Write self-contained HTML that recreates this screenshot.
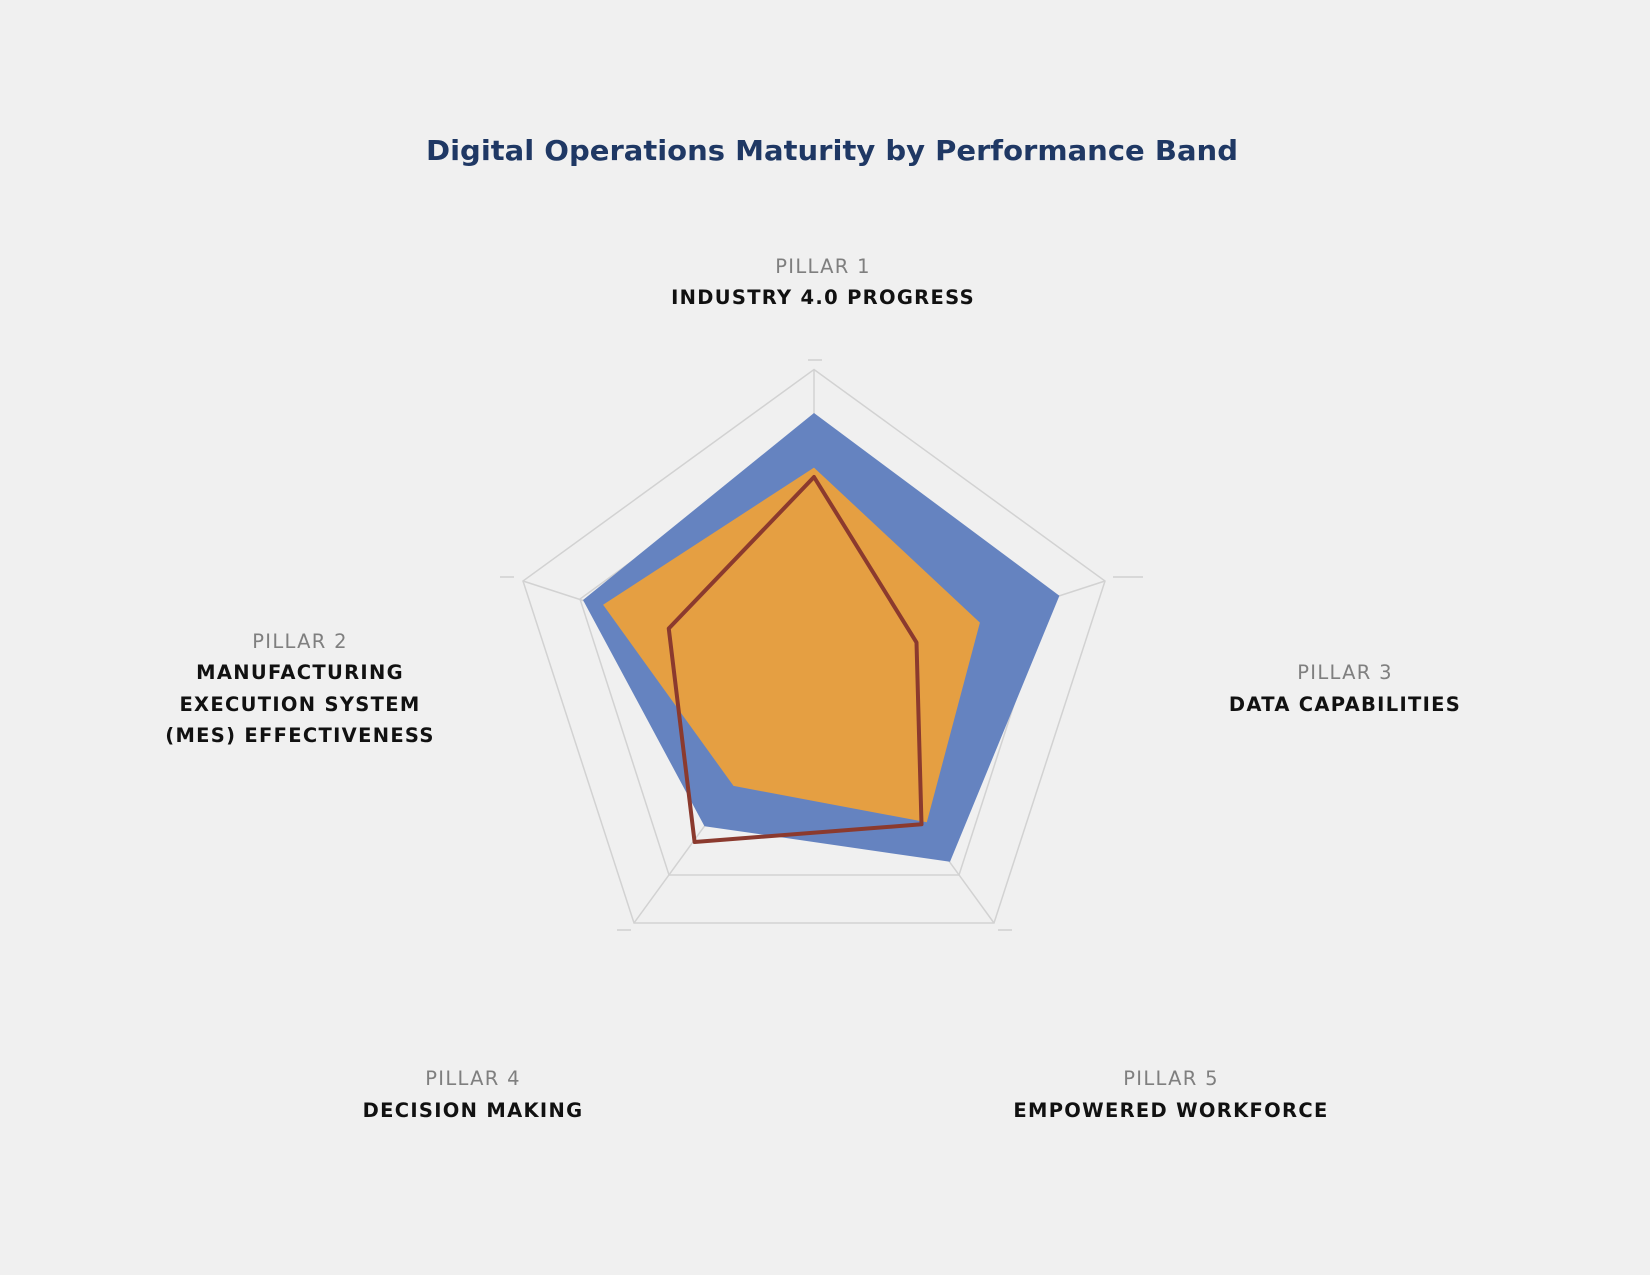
<!DOCTYPE html>
<html><head><meta charset="utf-8"><style>
html,body{margin:0;padding:0;background:#f0f0f0;}
svg{display:block;}
text{font-family:"DejaVu Sans","Liberation Sans",sans-serif;}
.p{fill:#7f7f7f;font-size:19.5px;letter-spacing:1.3px;}
.b{fill:#111;font-size:19.5px;font-weight:bold;letter-spacing:1.3px;}
</style></head><body>
<svg width="1650" height="1275" viewBox="0 0 1650 1275" xmlns="http://www.w3.org/2000/svg">
<rect width="1650" height="1275" fill="#f0f0f0"/>
<text x="832" y="160" text-anchor="middle" font-size="28" font-weight="bold" fill="#1f3864" textLength="812" lengthAdjust="spacingAndGlyphs">Digital Operations Maturity by Performance Band</text>

<g fill="none" stroke="#d2d2d2" stroke-width="1.5">
<polygon points="814,369.5 1105,581 994,923 634,923 523,581"/>
<polygon points="814,429 1048,599 959,875 669,875 580,599"/>
<line x1="814" y1="675.5" x2="814" y2="369.5"/>
<line x1="814" y1="675.5" x2="1105" y2="581"/>
<line x1="814" y1="675.5" x2="994" y2="923"/>
<line x1="814" y1="675.5" x2="634" y2="923"/>
<line x1="814" y1="675.5" x2="523" y2="581"/>
</g>
<g stroke="#d0d0d0" stroke-width="1.5">
<line x1="808" y1="360" x2="822" y2="360"/>
<line x1="500" y1="577" x2="514" y2="577"/>
<line x1="1113" y1="577" x2="1143" y2="577"/>
<line x1="617" y1="930" x2="631" y2="930"/>
<line x1="998" y1="930" x2="1012" y2="930"/>
</g>

<polygon points="814,413 1059.4,595.7 950,861.8 704.5,826.2 583,600" fill="#6583c0"/>
<polygon points="814,467.6 979.9,622.6 926.8,822.3 733.5,785.9 603.1,604.8" fill="#e59f42"/>
<polygon points="814,477 916.5,642.4 921.5,824.3 694.6,842 668.75,628.5" fill="none" stroke="#8b3a2e" stroke-width="4" stroke-linejoin="round"/>

<g text-anchor="middle">
<text class="p" x="823" y="273">PILLAR 1</text>
<text class="b" x="823" y="304">INDUSTRY 4.0 PROGRESS</text>

<text class="p" x="300" y="648">PILLAR 2</text>
<text class="b" x="300" y="679">MANUFACTURING</text>
<text class="b" x="300" y="711">EXECUTION SYSTEM</text>
<text class="b" x="300" y="742">(MES) EFFECTIVENESS</text>

<text class="p" x="1345" y="679">PILLAR 3</text>
<text class="b" x="1345" y="711">DATA CAPABILITIES</text>

<text class="p" x="473" y="1085">PILLAR 4</text>
<text class="b" x="473" y="1117">DECISION MAKING</text>

<text class="p" x="1171" y="1085">PILLAR 5</text>
<text class="b" x="1171" y="1117">EMPOWERED WORKFORCE</text>
</g>
</svg>
</body></html>
